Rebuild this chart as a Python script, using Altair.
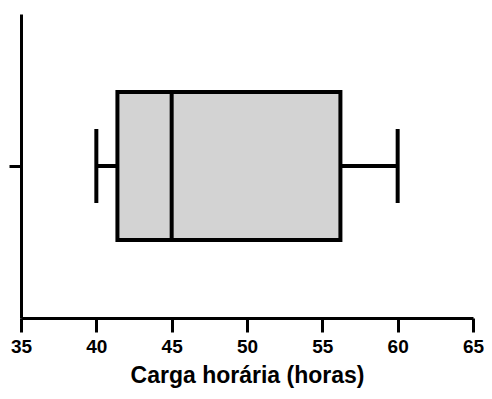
import altair as alt
import pandas as pd

group = [""]
w_min = [40.0]
q1 = [41.4]
median = [45.0]
q3 = [56.2]
w_max = [60.0]

df = pd.DataFrame({"g": group, "min": w_min, "q1": q1, "med": median, "q3": q3, "max": w_max})

xscale = alt.Scale(domain=[35, 65], nice=False, zero=False)
yscale = alt.Scale(paddingInner=0, paddingOuter=0.527)

FONT = "Liberation Sans"

xax = alt.Axis(values=[35, 40, 45, 50, 55, 60, 65], title="Carga horária (horas)", grid=False,
               domainColor="black", domainWidth=3, tickColor="black", tickWidth=3, tickSize=14,
               labelFont=FONT, labelFontSize=19, labelFontWeight="bold", labelColor="black",
               labelPadding=5, titleFont=FONT, titleFontSize=23, titleFontWeight="bold",
               titleColor="black", titlePadding=8, labelFlush=False)
yax = alt.Axis(title=None, labels=False, grid=False, domainColor="black", domainWidth=3,
               tickColor="black", tickWidth=3, tickSize=12)

base = alt.Chart(df)

whisk_lo = base.mark_rule(color="black", strokeWidth=4).encode(
    x=alt.X("min:Q", scale=xscale, axis=xax), x2="q1:Q",
    y=alt.Y("g:N", scale=yscale, axis=yax))
whisk_hi = base.mark_rule(color="black", strokeWidth=4).encode(
    x=alt.X("q3:Q", scale=xscale), x2="max:Q", y=alt.Y("g:N", scale=yscale))
box = base.mark_bar(fill="#d3d3d3", stroke="black", strokeWidth=4, opacity=1).encode(
    x=alt.X("q1:Q", scale=xscale), x2="q3:Q", y=alt.Y("g:N", scale=yscale))
cap_lo = base.mark_tick(color="black", thickness=4, size=74, orient="vertical", opacity=1).encode(
    x=alt.X("min:Q", scale=xscale), y=alt.Y("g:N", scale=yscale))
cap_hi = base.mark_tick(color="black", thickness=4, size=74, orient="vertical", opacity=1).encode(
    x=alt.X("max:Q", scale=xscale), y=alt.Y("g:N", scale=yscale))
med = base.mark_tick(color="black", thickness=4, size=146, orient="vertical", opacity=1).encode(
    x=alt.X("med:Q", scale=xscale), y=alt.Y("g:N", scale=yscale))

chart = alt.layer(whisk_lo, whisk_hi, box, cap_lo, cap_hi, med).properties(
    width=452, height=304,
    autosize=alt.AutoSizeParams(type="none"),
    padding={"left": 13, "top": 6, "right": 11, "bottom": 73},
).configure_view(stroke=None)

chart.save("out.html", embed_options={"renderer": "svg", "actions": False})
